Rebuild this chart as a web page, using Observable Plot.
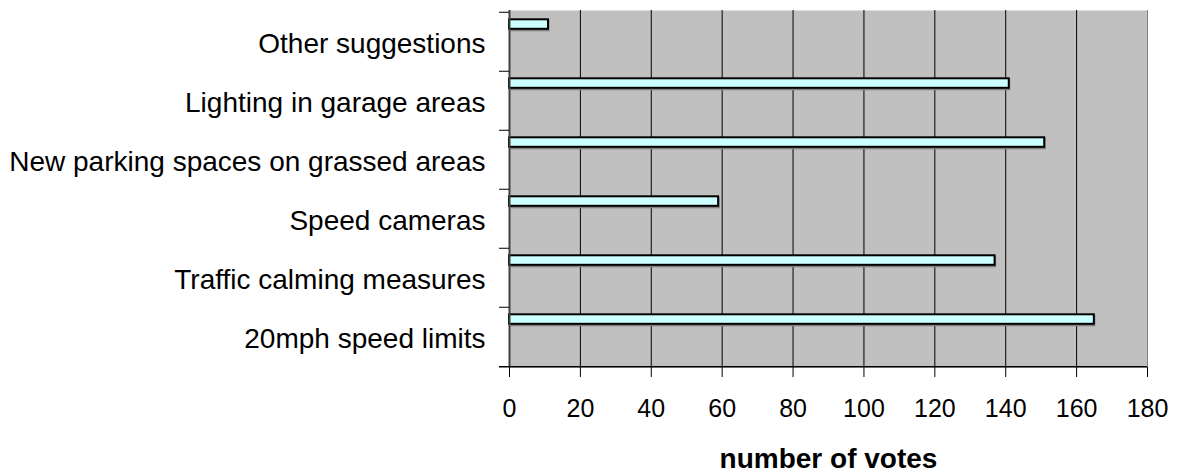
<!DOCTYPE html>
<html>
<head>
<meta charset="utf-8">
<script src="https://cdn.jsdelivr.net/npm/d3@7"></script>
<script src="https://cdn.jsdelivr.net/npm/@observablehq/plot@0.6"></script>
<style>
  html, body { margin: 0; padding: 0; background: #fff; }
  svg { font-family: "Liberation Sans", Arial, sans-serif; }
</style>
</head>
<body>
<div id="chart"></div>
<script>
const categories = [
  "Other suggestions",
  "Lighting in garage areas",
  "New parking spaces on grassed areas",
  "Speed cameras",
  "Traffic calming measures",
  "20mph speed limits"
];
const votes = [11, 141, 151, 59, 137, 165];
const xTicks = [0, 20, 40, 60, 80, 100, 120, 140, 160, 180];
const xLabel = "number of votes";

const data = categories.map((c, i) => ({cat: c, votes: votes[i]}));

const W = 1183, H = 476;
const mL = 509, mR = 36, mT = 10, mB = 109;
const band = (H - mT - mB) / categories.length;
const tickLen = 10 * 180 / (W - mL - mR);

const chart = Plot.plot({
  width: W,
  height: H,
  marginLeft: mL,
  marginRight: mR,
  marginTop: mT,
  marginBottom: mB,
  style: {background: "#fff", color: "#000", fontFamily: "'Liberation Sans', Arial, sans-serif"},
  x: {domain: [0, 180], label: null},
  y: {domain: categories, padding: 0, label: null},
  marks: [
    Plot.frame({fill: "#c0c0c0", stroke: null}),
    Plot.ruleX(xTicks.slice(1, -1), {stroke: "#000", strokeWidth: 1}),
    Plot.ruleX([180], {stroke: "#808080", strokeWidth: 1}),
    Plot.barX(data, {x: "votes", y: "cat", fill: "#808080", dx: 1.5, dy: 1.5, insetTop: 6.3, insetBottom: band - 18.3}),
    Plot.barX(data, {x: "votes", y: "cat", fill: "#ccffff", stroke: "#000", strokeWidth: 2, insetTop: 7.3, insetBottom: band - 17.3}),
    Plot.ruleX([0], {stroke: "#404040", strokeWidth: 2}),
    Plot.ruleY(categories, {y: d => d, x1: -tickLen, x2: 0, dy: -band / 2, stroke: "#000", strokeWidth: 1}),
    Plot.ruleY([categories[categories.length - 1]], {y: d => d, x1: -tickLen, x2: 180, dy: band / 2, stroke: "#000", strokeWidth: 1.5}),
    Plot.axisY({tickSize: 0, tickPadding: 24, fontSize: 28, label: null, dy: 2}),
    Plot.axisX(xTicks, {tickSize: 10, tickPadding: 22, fontSize: 25, label: null, stroke: "#000"}),
    Plot.text([xLabel], {frameAnchor: "bottom", dy: 100, fontSize: 28, fontWeight: "bold", textAnchor: "middle", fill: "#000"})
  ]
});
document.getElementById("chart").appendChild(chart);
</script>
</body>
</html>
